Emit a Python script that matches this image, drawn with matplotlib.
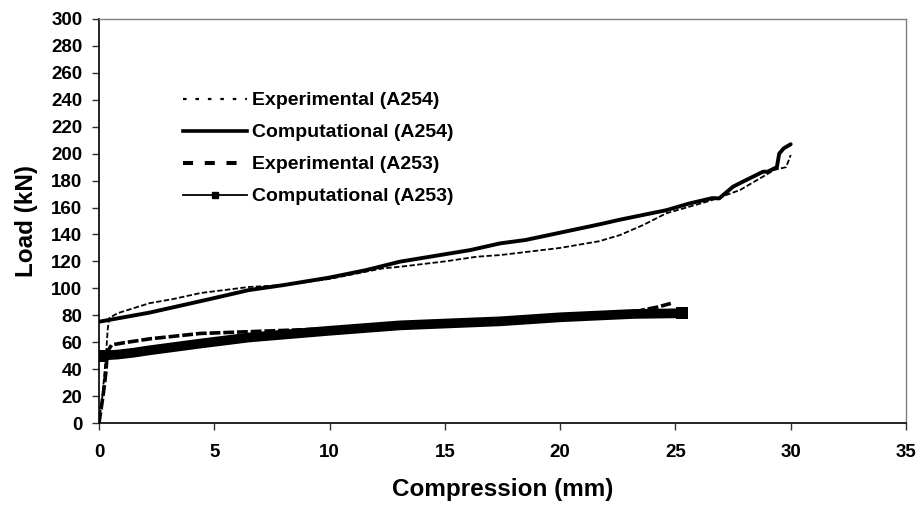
import matplotlib
matplotlib.use("Agg")
import matplotlib.pyplot as plt
from matplotlib.lines import Line2D

plt.rcParams['font.family'] = ['Liberation Sans', 'DejaVu Sans']
plt.rcParams['font.weight'] = 'bold'

# Experimental (A254)
exp254_x = [0, 0.15, 0.3, 0.38, 0.45, 0.8, 2.2, 3.2, 4.4, 6.5, 8.0, 10, 12.3, 13.05,
            15, 16.4, 17.4, 20, 21.7, 22.6, 23.6, 24.6, 25.6, 26.5, 27.8, 28.5,
            29.3, 29.8, 30.0]
exp254_y = [0, 20, 50, 70, 78, 81.5, 89, 92, 96.5, 101, 102.4, 107, 114.8, 116,
            120, 123.5, 124.7, 130, 135, 139.6, 147, 155.7, 160.6, 165, 173, 180,
            188, 190, 199]

# Computational (A254)
comp254_x = [0, 2.2, 4.8, 6.5, 8.0, 10, 11.6, 13.05, 16.1, 17.4, 18.5, 21.7, 22.6,
             24.6, 25.6, 26.6, 26.9, 27.5, 27.9, 28.8, 29.0, 29.4, 29.5, 29.7, 30.0]
comp254_y = [75.2, 82, 92, 98.7, 102.4, 108, 113.6, 119.8, 128.4, 133.4, 135.9,
             147.5, 151, 158, 163, 167, 166.8, 175.5, 179, 186.6, 186.6, 190, 200,
             204, 207]

# Experimental (A253)
exp253_x = [0, 0.19, 0.3, 0.33, 0.4, 0.55, 1.05, 2.2, 4.4, 6.5, 10, 13, 17.4, 20,
            22, 23.2, 23.6, 24.2, 24.8]
exp253_y = [0, 22, 38, 45.5, 54, 58, 59.5, 62.5, 66.5, 67.8, 70, 73.5, 76.5, 78.5,
            80.5, 82, 84, 86, 88.8]

# Computational (A253)
comp253_x = [0, 0.8, 1.5, 2.2, 4.4, 6.5, 10, 13.05, 17.4, 20, 23.2, 25.3]
comp253_y = [50, 50.8, 52.2, 54, 59, 63.5, 68.5, 72.5, 75.5, 78.5, 81, 81.5]

labels = ['Experimental (A254)', 'Computational (A254)',
          'Experimental (A253)', 'Computational (A253)']

fig = plt.figure(figsize=(9.22, 5.08), dpi=100)
ax = fig.add_axes([99 / 922, 1 - 423 / 508, 807 / 922, 404 / 508])

# computational A253: dense square markers in the original, drawn here as a band
ax.plot(comp253_x, comp253_y, color='black', lw=7, solid_capstyle='butt',
        solid_joinstyle='round', marker='s', markersize=8, markeredgewidth=0,
        markevery=[0, len(comp253_x) - 1])
ax.plot(exp253_x, exp253_y, color='black', lw=2.6, dashes=(3, 0.8))
ax.plot(exp254_x, exp254_y, color='black', lw=1.3, dashes=(3, 1.3))
ax.plot(comp254_x, comp254_y, color='black', lw=2.8, solid_capstyle='round')

ax.set_xlim(0, 35)
ax.set_ylim(0, 300)
ax.set_xticks(range(0, 36, 5))
ax.set_yticks(range(0, 301, 20))

for side in ['top', 'right']:
    ax.spines[side].set_color('#808080')
    ax.spines[side].set_linewidth(1.0)
for side in ['left', 'bottom']:
    ax.spines[side].set_color('black')
    ax.spines[side].set_linewidth(1.2)

ax.tick_params(axis='both', direction='out', length=5, width=1,
               labelsize=13.5, color='#303030')
ax.tick_params(axis='x', pad=10)
ax.tick_params(axis='y', pad=7)

ax.set_xlabel('Compression (mm)', fontsize=17.5, fontweight='bold')
ax.set_ylabel('Load (kN)', fontsize=17.5, fontweight='bold')
ax.xaxis.set_label_coords(0.5, -0.136)
ax.yaxis.set_label_coords(-0.076, 0.5)

handles = [
    Line2D([], [], color='black', lw=1.6, dashes=(1.6, 4)),
    Line2D([], [], color='black', lw=2.6),
    Line2D([], [], color='black', lw=2.9, dashes=(2.5, 2.9)),
    Line2D([], [], color='black', lw=1.3, marker='s', markersize=5),
]
ax.legend(handles, labels, loc='upper left', bbox_to_anchor=(0.104, 0.82),
          frameon=False, handlelength=3.3, handletextpad=0.25,
          labelspacing=0.74, borderpad=0, borderaxespad=0,
          prop={'weight': 'bold', 'size': 14})

fig.savefig('out.png', dpi=100)
